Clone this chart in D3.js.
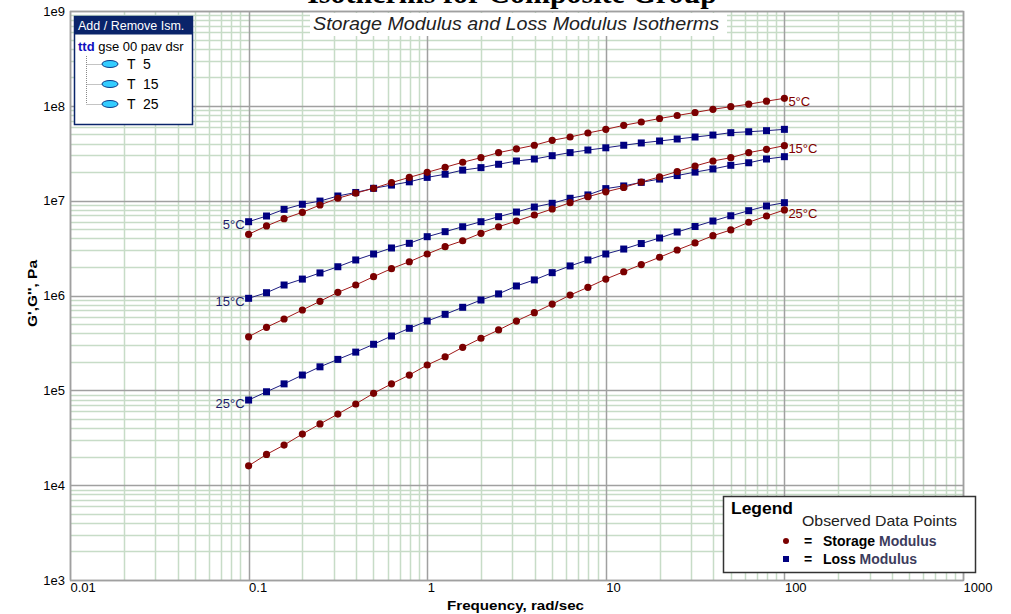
<!DOCTYPE html>
<html>
<head>
<meta charset="utf-8">
<script src="https://cdn.jsdelivr.net/npm/d3@7/dist/d3.min.js"></script>
<style>
  body { margin: 0; background: #fff; }
  svg { display: block; font-family: "Liberation Sans", Arial, sans-serif; }
</style>
</head>
<body>
<script>
// frequencies (rad/sec)
var freq = [0.1, 0.126, 0.158, 0.2, 0.251, 0.316, 0.398, 0.501, 0.631, 0.794,
  1, 1.26, 1.58, 2, 2.51, 3.16, 3.98, 5.01, 6.31, 7.94,
  10, 12.6, 15.8, 20, 25.1, 31.6, 39.8, 50.1, 63.1, 79.4, 100];

// storage modulus G' (Pa)
var storage5 = [4.42e6, 5.41e6, 6.46e6, 7.54e6, 9.0e6, 1.06e7, 1.20e7, 1.35e7, 1.55e7, 1.76e7,
  1.99e7, 2.25e7, 2.54e7, 2.84e7, 3.21e7, 3.51e7, 3.84e7, 4.33e7, 4.69e7, 5.17e7,
  5.65e7, 6.23e7, 6.75e7, 7.35e7, 7.91e7, 8.51e7, 9.19e7, 9.79e7, 1.04e8, 1.12e8, 1.20e8];
var storage15 = [3.67e5, 4.62e5, 5.65e5, 7.03e5, 8.69e5, 1.08e6, 1.29e6, 1.58e6, 1.92e6, 2.27e6,
  2.74e6, 3.27e6, 3.78e6, 4.53e6, 5.31e6, 6.10e6, 7.06e6, 8.17e6, 9.52e6, 1.10e7,
  1.24e7, 1.38e7, 1.57e7, 1.78e7, 2.03e7, 2.32e7, 2.62e7, 2.84e7, 3.21e7, 3.48e7, 3.80e7];
var storage25 = [1.60e4, 2.11e4, 2.65e4, 3.46e4, 4.42e4, 5.62e4, 7.18e4, 9.31e4, 1.17e5, 1.45e5,
  1.85e5, 2.26e5, 2.84e5, 3.54e5, 4.33e5, 5.38e5, 6.59e5, 8.13e5, 1.01e6, 1.22e6,
  1.49e6, 1.78e6, 2.12e6, 2.53e6, 3.02e6, 3.58e6, 4.27e6, 4.91e6, 5.92e6, 6.89e6, 7.98e6];

// loss modulus G'' (Pa)
var loss5 = [6.0e6, 6.89e6, 8.1e6, 9.16e6, 9.9e6, 1.12e7, 1.22e7, 1.35e7, 1.46e7, 1.58e7,
  1.76e7, 1.90e7, 2.10e7, 2.23e7, 2.42e7, 2.62e7, 2.75e7, 2.98e7, 3.21e7, 3.42e7,
  3.61e7, 3.84e7, 4.06e7, 4.26e7, 4.47e7, 4.69e7, 4.92e7, 5.21e7, 5.33e7, 5.47e7, 5.65e7];
var loss15 = [9.34e5, 1.07e6, 1.29e6, 1.49e6, 1.73e6, 2.01e6, 2.37e6, 2.74e6, 3.17e6, 3.55e6,
  4.17e6, 4.71e6, 5.31e6, 6.0e6, 6.78e6, 7.59e6, 8.57e6, 9.38e6, 1.06e7, 1.15e7,
  1.34e7, 1.43e7, 1.56e7, 1.69e7, 1.84e7, 2.00e7, 2.16e7, 2.36e7, 2.51e7, 2.75e7, 2.91e7];
var loss25 = [7.9e4, 9.66e4, 1.17e5, 1.45e5, 1.77e5, 2.12e5, 2.53e5, 3.06e5, 3.74e5, 4.51e5,
  5.38e5, 6.33e5, 7.51e5, 8.96e5, 1.04e6, 1.26e6, 1.46e6, 1.74e6, 2.05e6, 2.37e6,
  2.74e6, 3.09e6, 3.53e6, 4.04e6, 4.67e6, 5.34e6, 6.10e6, 6.93e6, 7.84e6, 8.79e6, 9.52e6];

var tempLabels = ["5°C", "15°C", "25°C"];
var isothermNums = ["5", "15", "25"];
var xTickLabels = ["0.01", "0.1", "1", "10", "100", "1000"];
var yTickLabels = ["1e3", "1e4", "1e5", "1e6", "1e7", "1e8", "1e9"];

var storageSeries = [storage5, storage15, storage25];
var lossSeries = [loss5, loss15, loss25];

drawChart();

function drawChart() {
  //svg
  var width = 1011;
  var height = 614;
  var svg = d3.select("body").append("svg")
    .attr("width", width)
    .attr("height", height);

  // plot box
  var pLeft = 70, pRight = 963, pTop = 11, pBottom = 580;

  var xScale = d3.scaleLog().domain([0.01, 1000]).range([pLeft, pRight]);
  var yScale = d3.scaleLog().domain([1e3, 1e9]).range([pBottom, pTop]);

  function isDecade(v) {
    var l = Math.log10(v);
    return Math.abs(l - Math.round(l)) < 1e-9;
  }

  // minor grid first, then major grid
  var grid = svg.append("g").attr("class", "grid");
  var xt = xScale.ticks();
  var yt = yScale.ticks();

  grid.selectAll(".vminor").data(xt.filter(function (d) { return !isDecade(d); }))
    .enter().append("line")
    .attr("x1", function (d) { return Math.round(xScale(d)) + 0.5; })
    .attr("x2", function (d) { return Math.round(xScale(d)) + 0.5; })
    .attr("y1", pTop).attr("y2", pBottom)
    .attr("stroke", "#c7dcc7").attr("stroke-width", 1.5);

  grid.selectAll(".hminor").data(yt.filter(function (d) { return !isDecade(d); }))
    .enter().append("line")
    .attr("y1", function (d) { return Math.round(yScale(d)) + 0.5; })
    .attr("y2", function (d) { return Math.round(yScale(d)) + 0.5; })
    .attr("x1", pLeft).attr("x2", pRight)
    .attr("stroke", "#c7dcc7").attr("stroke-width", 1.5);

  grid.selectAll(".vmajor").data(xt.filter(isDecade))
    .enter().append("line")
    .attr("x1", function (d) { return Math.round(xScale(d)) + 0.5; })
    .attr("x2", function (d) { return Math.round(xScale(d)) + 0.5; })
    .attr("y1", pTop).attr("y2", pBottom)
    .attr("stroke", "#a0a0a0").attr("stroke-width", 1.5);

  grid.selectAll(".hmajor").data(yt.filter(isDecade))
    .enter().append("line")
    .attr("y1", function (d) { return Math.round(yScale(d)) + 0.5; })
    .attr("y2", function (d) { return Math.round(yScale(d)) + 0.5; })
    .attr("x1", pLeft).attr("x2", pRight)
    .attr("stroke", "#a0a0a0").attr("stroke-width", 1.5);

  // axes (labels only, using the library axis generators)
  var xAxis = d3.axisBottom(xScale)
    .tickValues([0.01, 0.1, 1, 10, 100, 1000])
    .tickFormat(function (d, i) { return xTickLabels[i]; })
    .tickSize(0).tickPadding(3);
  var xAxisGroup = svg.append("g")
    .attr("class", "x axis")
    .attr("transform", "translate(0," + pBottom + ")")
    .call(xAxis);
  xAxisGroup.select(".domain").remove();
  xAxisGroup.selectAll("text")
    .attr("text-anchor", "start")
    .attr("dx", 0)
    .attr("font-size", 13).attr("font-family", "Liberation Sans, Arial, sans-serif")
    .attr("fill", "#000");

  var yAxis = d3.axisLeft(yScale)
    .tickValues([1e3, 1e4, 1e5, 1e6, 1e7, 1e8, 1e9])
    .tickFormat(function (d, i) { return yTickLabels[i]; })
    .tickSize(0).tickPadding(5);
  var yAxisGroup = svg.append("g")
    .attr("class", "y axis")
    .attr("transform", "translate(" + pLeft + ",0)")
    .call(yAxis);
  yAxisGroup.select(".domain").remove();
  yAxisGroup.selectAll("text")
    .attr("font-size", 13).attr("font-family", "Liberation Sans, Arial, sans-serif")
    .attr("fill", "#000");

  // plot border
  svg.append("rect")
    .attr("x", pLeft + 0.5).attr("y", pTop + 0.5)
    .attr("width", pRight - pLeft).attr("height", pBottom - pTop)
    .attr("fill", "none").attr("stroke", "#a0a0a0").attr("stroke-width", 1.5);

  // clipped chart heading at the very top
  svg.append("rect").attr("x", 0).attr("y", 0).attr("width", width).attr("height", 7).attr("fill", "#fff");
  svg.append("text")
    .attr("x", 512).attr("y", 3)
    .attr("text-anchor", "middle")
    .attr("font-family", "Liberation Serif, Times New Roman, serif")
    .attr("font-weight", "bold").attr("font-size", 30)
    .text("Isotherms for Composite Group");

  // subtitle with white backing
  svg.append("rect").attr("x", 310).attr("y", 13).attr("width", 417).attr("height", 23).attr("fill", "#fff");
  svg.append("text")
    .attr("x", 313).attr("y", 30)
    .attr("font-style", "italic").attr("font-size", 18)
    .attr("textLength", 406).attr("lengthAdjust", "spacingAndGlyphs")
    .attr("fill", "#222")
    .text("Storage Modulus and Loss Modulus Isotherms");

  // axis titles
  svg.append("text")
    .attr("x", 447).attr("y", 610)
    .attr("font-weight", "bold").attr("font-size", 13.5)
    .attr("textLength", 137).attr("lengthAdjust", "spacingAndGlyphs")
    .text("Frequency, rad/sec");

  svg.append("text")
    .attr("transform", "translate(37,327) rotate(-90)")
    .attr("font-weight", "bold").attr("font-size", 13.5)
    .attr("textLength", 67).attr("lengthAdjust", "spacingAndGlyphs")
    .text("G',G'', Pa");

  // series
  var redLine = "#a01818", redPt = "#7a0000";
  var blueLine = "#1c1c80", bluePt = "#000080";

  var line = d3.line()
    .x(function (d, i) { return xScale(freq[i]); })
    .y(function (d) { return yScale(d); });

  lossSeries.forEach(function (s) {
    svg.append("path").datum(s)
      .attr("d", line).attr("fill", "none")
      .attr("stroke", blueLine).attr("stroke-width", 1);
  });
  storageSeries.forEach(function (s) {
    svg.append("path").datum(s)
      .attr("d", line).attr("fill", "none")
      .attr("stroke", redLine).attr("stroke-width", 1);
  });

  lossSeries.forEach(function (s) {
    svg.append("g").selectAll("rect").data(s).enter().append("rect")
      .attr("x", function (d, i) { return xScale(freq[i]) - 3.5; })
      .attr("y", function (d) { return yScale(d) - 3.5; })
      .attr("width", 7).attr("height", 7)
      .attr("fill", bluePt);
  });
  storageSeries.forEach(function (s) {
    svg.append("g").selectAll("circle").data(s).enter().append("circle")
      .attr("cx", function (d, i) { return xScale(freq[i]); })
      .attr("cy", function (d) { return yScale(d); })
      .attr("r", 3.6)
      .attr("fill", redPt);
  });

  // temperature labels: right end (storage) and left start (loss)
  storageSeries.forEach(function (s, k) {
    svg.append("text")
      .attr("x", xScale(freq[freq.length - 1]) + 4)
      .attr("y", yScale(s[s.length - 1]) + 3)
      .attr("dy", "0.35em")
      .attr("font-size", 13).attr("fill", "#800000")
      .text(tempLabels[k]);
  });
  lossSeries.forEach(function (s, k) {
    svg.append("text")
      .attr("x", xScale(freq[0]) - 4)
      .attr("y", yScale(s[0]) + 3)
      .attr("dy", "0.35em")
      .attr("text-anchor", "end")
      .attr("font-size", 13).attr("fill", "#1c1c6a")
      .text(tempLabels[k]);
  });

  // isotherm selection box (top left)
  var box = svg.append("g").attr("transform", "translate(74,16)");
  box.append("rect").attr("x", 0.5).attr("y", 0.5).attr("width", 118).attr("height", 108)
    .attr("fill", "#fff").attr("stroke", "#0a246a").attr("stroke-width", 1.5);
  box.append("rect").attr("x", 0.5).attr("y", 0.5).attr("width", 118).attr("height", 18)
    .attr("fill", "#0a246a");
  box.append("text").attr("x", 4).attr("y", 14)
    .attr("font-size", 12.5).attr("fill", "#fff")
    .text("Add / Remove Ism.");
  var hdr = box.append("text").attr("x", 4).attr("y", 35).attr("font-size", 13);
  hdr.append("tspan").attr("font-weight", "bold").attr("fill", "#1010c0").text("ttd");
  hdr.append("tspan").attr("fill", "#000").text(" gse 00 pav dsr");

  box.append("line").attr("x1", 12.5).attr("x2", 12.5).attr("y1", 40).attr("y2", 88)
    .attr("stroke", "#888").attr("stroke-dasharray", "1,1");
  isothermNums.forEach(function (num, k) {
    var yy = 48 + k * 20;
    box.append("line").attr("x1", 12.5).attr("x2", 28).attr("y1", yy + 0.5).attr("y2", yy + 0.5)
      .attr("stroke", "#888").attr("stroke-dasharray", "1,1");
    box.append("ellipse").attr("cx", 36).attr("cy", yy).attr("rx", 8).attr("ry", 3.5)
      .attr("fill", "#33ccff").attr("stroke", "#0a3a8a").attr("stroke-width", 1);
    var t = box.append("text").attr("x", 53).attr("y", yy + 5)
      .attr("font-size", 14).attr("fill", "#000");
    t.append("tspan").text("T");
    t.append("tspan").attr("x", 69).text(num);
  });

  // legend box (bottom right)
  var lg = svg.append("g").attr("transform", "translate(723,496)");
  lg.append("rect").attr("x", 0.5).attr("y", 0.5).attr("width", 252).attr("height", 76)
    .attr("fill", "#fff").attr("stroke", "#333").attr("stroke-width", 1.5);
  lg.append("text").attr("x", 8).attr("y", 18)
    .attr("font-weight", "bold").attr("font-size", 16)
    .attr("textLength", 62).attr("lengthAdjust", "spacingAndGlyphs").text("Legend");
  lg.append("text").attr("x", 79).attr("y", 30)
    .attr("font-size", 15).attr("fill", "#222")
    .attr("textLength", 155).attr("lengthAdjust", "spacingAndGlyphs").text("Observed Data Points");

  lg.append("circle").attr("cx", 63).attr("cy", 45).attr("r", 3).attr("fill", redPt);
  lg.append("rect").attr("x", 60).attr("y", 60).attr("width", 6).attr("height", 6).attr("fill", bluePt);

  var row1 = lg.append("text").attr("x", 81).attr("y", 50).attr("font-size", 14).attr("font-weight", "bold");
  row1.append("tspan").text("=");
  row1.append("tspan").attr("x", 100).text("Storage ");
  row1.append("tspan").attr("fill", "#3c3c5c").text("Modulus");
  var row2 = lg.append("text").attr("x", 81).attr("y", 68).attr("font-size", 14).attr("font-weight", "bold");
  row2.append("tspan").text("=");
  row2.append("tspan").attr("x", 100).text("Loss ");
  row2.append("tspan").attr("fill", "#3c3c5c").text("Modulus");
}
</script>
</body>
</html>
